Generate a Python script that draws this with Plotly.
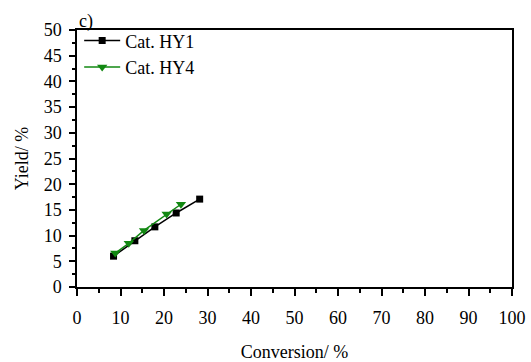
import plotly.graph_objects as go

# Conversion (%) and yield (%) for each catalyst
hy1_conversion = [8.4, 13.3, 17.9, 22.8, 28.2]
hy1_yield = [6.0, 9.0, 11.7, 14.4, 17.1]

hy4_conversion = [8.8, 11.9, 15.4, 20.6, 23.9]
hy4_yield = [6.6, 8.5, 11.0, 14.2, 16.1]

x_ticks = list(range(0, 101, 10))
y_ticks = list(range(0, 51, 5))

FONT = "Liberation Serif, Times New Roman, DejaVu Serif, serif"
GREEN = "#128812"

fig = go.Figure()
fig.add_trace(go.Scatter(
    x=hy1_conversion, y=hy1_yield, name="Cat. HY1",
    mode="lines+markers",
    line=dict(color="black", width=1.5),
    marker=dict(symbol="square", size=7, color="black"),
))
fig.add_trace(go.Scatter(
    x=hy4_conversion, y=hy4_yield, name="Cat. HY4",
    mode="lines+markers",
    line=dict(color=GREEN, width=1.5),
    marker=dict(symbol="triangle-down", size=9, color=GREEN),
))

axis_common = dict(
    showgrid=False, zeroline=False, automargin=False,
    showline=True, linecolor="black", linewidth=1.5,
    ticks="outside", tickcolor="black", tickwidth=1.5,
    tickfont=dict(family=FONT, size=18, color="black"),
    mirror=True,
)

fig.update_xaxes(
    **axis_common,
    range=[0, 100], tickvals=x_ticks, ticklen=7, ticklabelstandoff=7,
    minor=dict(ticks="outside", dtick=5, ticklen=4, tickwidth=1.5, tickcolor="black"),
    title=dict(text="Conversion/ %", font=dict(family=FONT, size=18, color="black"), standoff=18),
)
fig.update_yaxes(
    **axis_common,
    range=[0, 50], tickvals=y_ticks, ticklen=6, ticklabelstandoff=4,
    minor=dict(ticks="outside", dtick=2.5, ticklen=3, tickwidth=1.5, tickcolor="black"),
    title=dict(text="Yield/ %", font=dict(family=FONT, size=18, color="black"), standoff=10),
)

fig.add_annotation(
    text="c)", xref="paper", yref="paper", x=0, y=1,
    xanchor="left", yanchor="bottom", showarrow=False,
    font=dict(family=FONT, size=18, color="black"), yshift=-4,
)

fig.update_layout(
    width=531, height=362,
    margin=dict(l=77, r=19, t=30, b=75),
    plot_bgcolor="white", paper_bgcolor="white",
    font=dict(family=FONT, size=18, color="black"),
    showlegend=True,
    legend=dict(
        x=0.005, y=1.03, xanchor="left", yanchor="top",
        bgcolor="rgba(0,0,0,0)", borderwidth=0,
        font=dict(family=FONT, size=18, color="black"),
        tracegroupgap=0, itemwidth=36,
    ),
)

fig.write_html("out.html")
